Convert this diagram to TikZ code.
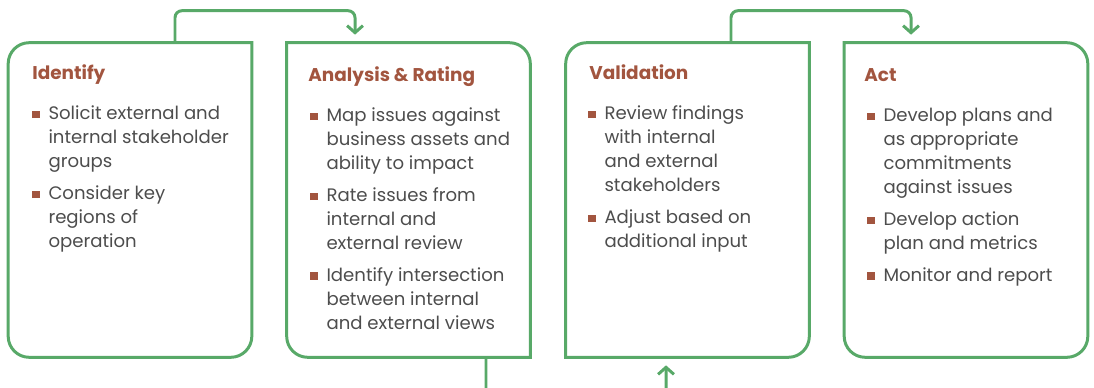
\documentclass[tikz,border=0pt]{standalone}
\usepackage{fontspec}
\setmainfont{Poppins}
\usepackage{xcolor}
\usetikzlibrary{arrows.meta,positioning}

\definecolor{leaf}{HTML}{58A968}
\definecolor{rust}{HTML}{A2553F}
\definecolor{ink}{HTML}{4D4D4D}

\newcommand{\bul}{\textcolor{rust}{\rule[1pt]{4.2pt}{4.2pt}}}

\tikzset{
  phase/.style={minimum width=4.86cm, minimum height=6.28cm, inner sep=0pt},
  frame/.style={draw=leaf, line width=1.7pt, rounded corners=12pt, line cap=rect},
  flow/.style={draw=leaf, line width=1.7pt, rounded corners=4pt,
    -{Straight Barb[length=4pt,width=9pt]}, shorten >=0.16cm},
  heading/.style={anchor=base west, inner sep=0pt, text=rust,
    font=\fontsize{10.5}{13.6}\selectfont\bfseries},
  points/.style={anchor=base west, inner sep=0pt, text=ink,
    font=\fontsize{10.3}{13.6}\selectfont},
}

\begin{document}
\begin{tikzpicture}[x=0.02cm,y=-0.02cm]
\useasboundingbox (0,0) rectangle (1094,388);
\clip (0,0) rectangle (1094,388);

% the four phases
\node[phase] (identify) at (130,200) {};
\node[phase] (analysis) at (408.5,200) {};
\node[phase] (validation) at (687.5,200) {};
\node[phase] (act) at (966,200) {};

\draw[frame] (identify.north east) -- (identify.north west) -- (identify.south west)
  -- (identify.south east) -- (identify.north east);
\draw[frame] (analysis.north west) -- (analysis.north east) -- (analysis.south east);
\draw[frame] (analysis.south east) -- (analysis.south west) -- (analysis.north west);
\draw[frame] (validation.north east) -- (validation.north west) -- (validation.south west);
\draw[frame] (validation.south west) -- (validation.south east) -- (validation.north east);
\draw[frame] (act.north west) -- (act.north east) -- (act.south east)
  -- (act.south west) -- (act.north west);

% links
\draw[flow] ([xshift=0.9cm]identify.north) -- ++(0,-32) -| ([xshift=-1.07cm]analysis.north);
\draw[flow] ([xshift=1.55cm]analysis.south) -- ++(0,45) -| ([xshift=-0.43cm]validation.south);
\draw[flow] ([xshift=0.87cm]validation.north) -- ++(0,-32) -| ([xshift=-1.1cm]act.north);

% titles
\node[heading] (identifyhead) at (32,80) {Identify};
\node[heading] (analysishead) at (308,82) {Analysis \& Rating};
\node[heading] (validationhead) at (589,80) {Validation};
\node[heading] (acthead) at (864,82) {Act};

% bullet lists
\node[points] (identifylist) at (32,120) {\begin{tabular}[t]{@{}l@{\hspace{5pt}}l@{}}
  \bul & Solicit external and\\
       & internal stakeholder\\
       & groups\\[4.6pt]
  \bul & Consider key\\
       & regions of\\
       & operation
\end{tabular}};
\node[points] (analysislist) at (310,122) {\begin{tabular}[t]{@{}l@{\hspace{5pt}}l@{}}
  \bul & Map issues against\\
       & business assets and\\
       & ability to impact\\[4.6pt]
  \bul & Rate issues from\\
       & internal and\\
       & external review\\[4.6pt]
  \bul & Identify intersection\\
       & between internal\\
       & and external views
\end{tabular}};
\node[points] (validationlist) at (588,120) {\begin{tabular}[t]{@{}l@{\hspace{5pt}}l@{}}
  \bul & Review findings\\
       & with internal\\
       & and external\\
       & stakeholders\\[4.6pt]
  \bul & Adjust based on\\
       & additional input
\end{tabular}};
\node[points] (actlist) at (867,122) {\begin{tabular}[t]{@{}l@{\hspace{5pt}}l@{}}
  \bul & Develop plans and\\
       & as appropriate\\
       & commitments\\
       & against issues\\[4.6pt]
  \bul & Develop action\\
       & plan and metrics\\[4.6pt]
  \bul & Monitor and report
\end{tabular}};
\end{tikzpicture}
\end{document}
